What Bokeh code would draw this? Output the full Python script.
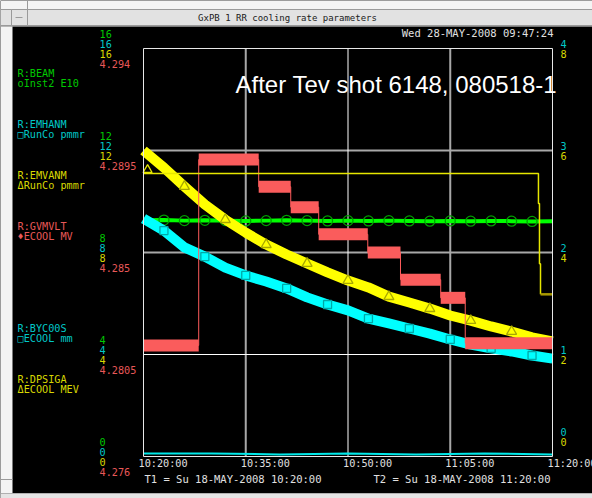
from bokeh.plotting import figure
from bokeh.models import Range1d, Label
from bokeh.embed import file_html
from bokeh.resources import INLINE

# ---------------- data ----------------
# time in minutes after 10:20:00 on 18-MAY-2008
time_ticks = [0, 15, 30, 45, 60]
time_tick_labels = ["10:20:00", "10:35:00", "10:50:00", "11:05:00", "11:20:00"]

sample_t = [0, 3, 6, 9, 12, 15, 18, 21, 24, 27, 30, 33, 36, 39, 42, 45, 48, 51, 54, 57, 60]
# R:BEAM  Inst2 E10 (left scale 0-16)
beam = [9.26, 9.27, 9.25, 9.26, 9.25, 9.24, 9.25, 9.26, 9.25, 9.24, 9.25,
        9.24, 9.25, 9.24, 9.23, 9.24, 9.23, 9.24, 9.23, 9.22, 9.23]
# R:EMHANM  RunCo pmmr (left scale 0-16)
emhanm = [9.33, 8.86, 8.20, 7.84, 7.41, 7.10, 6.86, 6.59, 6.24, 5.96, 5.73,
          5.41, 5.22, 5.02, 4.82, 4.59, 4.39, 4.24, 4.12, 3.96, 3.84]
# R:EMVANM  RunCo pmmr (left scale 0-16)
emvanm = [12.00, 11.33, 10.59, 9.88, 9.29, 8.78, 8.31, 7.92, 7.57, 7.22, 6.90,
          6.63, 6.27, 6.04, 5.80, 5.53, 5.33, 5.10, 4.90, 4.67, 4.51]
# R:GVMVLT  ECOOL MV (left scale 4.276-4.294), step levels
gv_start = [0.0, 8.1, 16.9, 21.6, 25.7, 32.9, 37.7, 43.6, 47.2]
gv_end = [8.1, 16.9, 21.6, 25.7, 32.9, 37.7, 43.6, 47.2, 60.0]
gv_level = [4.2809, 4.2891, 4.2879, 4.2870, 4.2858, 4.2850, 4.2838, 4.2830, 4.2810]
# R:BYC00S  ECOOL mm (right scale 0-4)
byc_t = [0, 10, 20, 30, 40, 50, 60]
byc = [0.03, 0.03, 0.02, 0.03, 0.02, 0.03, 0.02]
# R:DPSIGA  ECOOL MEV (right scale 0-8)
dp_t = [0.0, 57.94, 58.09, 58.24, 60.0]
dp = [5.55, 4.96, 3.78, 3.18, 3.18]
dp_marker_t = [0.6]
dp_marker = [5.62]

left_ticks = [0, 4, 8, 12, 16]
left_tick_labels = ["0", "4", "8", "12", "16"]
gv_ticks = [4.276, 4.2805, 4.285, 4.2895, 4.294]
gv_tick_labels = ["4.276", "4.2805", "4.285", "4.2895", "4.294"]
byc_ticks = [0, 1, 2, 3, 4]
byc_tick_labels = ["0", "1", "2", "3", "4"]
dp_ticks = [0, 2, 4, 6, 8]
dp_tick_labels = ["0", "2", "4", "6", "8"]

# ---------------- layout (page pixels) ----------------
W, H = 592, 498
PL, PT, PR, PB = 143, 48, 552, 456  # plot box in page pixels


def x_extent(lo, hi):
    k = (hi - lo) / (PR - PL)
    return Range1d(lo - PL * k, lo + (W - PL) * k)


def y_extent(lo, hi):
    k = (hi - lo) / (PB - PT)
    return Range1d(lo - (H - PB) * k, lo + PB * k)


p = figure(width=W, height=H, output_backend="svg", toolbar_location=None,
           x_axis_location=None, y_axis_location=None,
           x_range=x_extent(time_ticks[0], time_ticks[-1]),
           y_range=y_extent(left_ticks[0], left_ticks[-1]),
           min_border=0)
p.extra_x_ranges = {"px": Range1d(0, W)}
p.extra_y_ranges = {"gv": y_extent(gv_ticks[0], gv_ticks[-1]),
                    "byc": y_extent(byc_ticks[0], byc_ticks[-1]),
                    "dp": y_extent(dp_ticks[0], dp_ticks[-1]),
                    "py": Range1d(H, 0)}
p.background_fill_color = "black"
p.border_fill_color = "black"
p.outline_line_color = None
p.grid.visible = False

# ---------------- window chrome ----------------
p.quad(left=[0, 0, 11, 0, 0], right=[W, W, 27, 12, 0 + W],
       top=[0, 9, 9, 26, 493], bottom=[26, 25, 25, 493, H],
       x_range_name="px", y_range_name="py",
       fill_color=["#f4f4f4", "#e2e2e2", "#e2e2e2", "#f4f4f4", "#e4e4e4"],
       line_color=[None, "#9a9a9a", "#9a9a9a", None, "#b0b0b0"], line_width=1)
p.segment(x0=[27, 15, 0], y0=[0, 17, 479], x1=[27, 22, 12], y1=[9, 17, 479],
          x_range_name="px", y_range_name="py", line_color="#9a9a9a", line_width=1)

# ---------------- grid ----------------
lo_t, hi_t = time_ticks[0], time_ticks[-1]
lo_y, hi_y = left_ticks[0], left_ticks[-1]
p.segment(x0=[time_ticks[1], time_ticks[3]], x1=[time_ticks[1], time_ticks[3]],
          y0=[lo_y, lo_y], y1=[hi_y, hi_y], line_color="#a8a8a8", line_width=2)
p.segment(x0=[lo_t, lo_t], x1=[hi_t, hi_t], y0=[left_ticks[2], left_ticks[3]],
          y1=[left_ticks[2], left_ticks[3]], line_color="#a8a8a8", line_width=2)
p.segment(x0=[time_ticks[2]], x1=[time_ticks[2]], y0=[lo_y], y1=[hi_y],
          line_color="#ffffff", line_width=1)
p.segment(x0=[lo_t], x1=[hi_t], y0=[left_ticks[1]], y1=[left_ticks[1]],
          line_color="#ffffff", line_width=1)

# ---------------- traces ----------------
p.line(sample_t, beam, line_color="#00ff00", line_width=4)
p.scatter(sample_t[1:-1], beam[1:-1], marker="circle", size=10, fill_color=None,
          line_color="#00a000", line_width=1.3)

p.line(sample_t, emhanm, line_color="#00ffff", line_width=10, line_join="round")
p.scatter(sample_t[1:-1:2], emhanm[1:-1:2], marker="square", size=8, fill_color=None,
          line_color="#00a8a8", line_width=1.3)

p.line(sample_t, emvanm, line_color="#ffff00", line_width=10, line_join="round")
p.scatter(sample_t[2:-1:2], emvanm[2:-1:2], marker="triangle", size=10, fill_color=None,
          line_color="#a8a800", line_width=1.3)

p.step(gv_start + [gv_end[-1]], gv_level + [gv_level[-1]], mode="after",
       y_range_name="gv", line_color="#ff5c5c", line_width=1)
p.segment(x0=gv_start, x1=gv_end, y0=gv_level, y1=gv_level, y_range_name="gv",
          line_color="#fa5c5c", line_width=12)

p.line(byc_t, byc, y_range_name="byc", line_color="#00e8e8", line_width=2)

p.step(dp_t[:4], dp[:4], mode="after", y_range_name="dp", line_color="#e6e600", line_width=1.5)
p.line(dp_t[3:], dp[3:], y_range_name="dp", line_color="#a89800", line_width=2.5)
p.scatter(dp_marker_t, dp_marker, marker="triangle", size=9, fill_color=None,
          y_range_name="dp", line_color="#e6e600", line_width=1.3)

# plot frame
p.quad(left=[lo_t], right=[hi_t], bottom=[lo_y], top=[hi_y], fill_color=None,
       line_color="#e8e8e8", line_width=1)

# ---------------- texts ----------------
MONO = "DejaVu Sans Mono"
FS = "10.2px"


def lab(px, py, text, color, align="left", size=FS, font=MONO):
    p.add_layout(Label(x=px, y=py, x_range_name="px", y_range_name="py", text=text,
                       text_color=color, text_align=align, text_baseline="middle",
                       text_font=font, text_font_size=size))


lab(287, 17, "GxPB 1 RR cooling rate parameters", "#202020", align="center", size="9px")
lab(553, 32, "Wed 28-MAY-2008 09:47:24", "#e0e0e0", align="right", size="10.5px")

GREEN_T, CYAN_T, YELLOW_T, RED_T = "#00c800", "#00c8c8", "#d8d800", "#e85858"

legend = [
    ("R:BEAM", "oInst2  E10", GREEN_T, 73),
    ("R:EMHANM", "\u25a1RunCo  pmmr", CYAN_T, 124),
    ("R:EMVANM", "\u0394RunCo  pmmr", YELLOW_T, 175),
    ("R:GVMVLT", "\u2666ECOOL  MV", RED_T, 226),
    ("R:BYC00S", "\u25a1ECOOL  mm", CYAN_T, 328),
    ("R:DPSIGA", "\u0394ECOOL  MEV", YELLOW_T, 379),
]
for name, desc, col, py in legend:
    lab(17, py, name, col)
    lab(17, py + 10, desc, col)

# left tick labels (four stacked scales)
for t, txt, g, gtxt in zip(left_ticks, left_tick_labels, gv_ticks, gv_tick_labels):
    for off, col in ((15, GREEN_T), (5, CYAN_T), (-5, YELLOW_T)):
        p.add_layout(Label(x=99, x_range_name="px", y=t, y_offset=off, text=txt,
                           text_color=col, text_baseline="middle", text_font=MONO,
                           text_font_size=FS))
    p.add_layout(Label(x=99, x_range_name="px", y=g, y_range_name="gv", y_offset=-15,
                       text=gtxt, text_color=RED_T, text_baseline="middle",
                       text_font=MONO, text_font_size=FS))

# right tick labels
for i, (b, btxt, d, dtxt) in enumerate(zip(byc_ticks, byc_tick_labels, dp_ticks, dp_tick_labels)):
    lift = 20 if i == 0 else 0
    p.add_layout(Label(x=560, x_range_name="px", y=b, y_range_name="byc", y_offset=5 + lift,
                       text=btxt, text_color=CYAN_T, text_baseline="middle",
                       text_font=MONO, text_font_size=FS))
    p.add_layout(Label(x=560, x_range_name="px", y=d, y_range_name="dp", y_offset=-5 + lift,
                       text=dtxt, text_color=YELLOW_T, text_baseline="middle",
                       text_font=MONO, text_font_size=FS))

# time tick labels
for t, txt in zip(time_ticks, time_tick_labels):
    p.add_layout(Label(x=t, x_offset=-5, y=463, y_range_name="py", text=txt,
                       text_color="#e0e0e0", text_baseline="middle",
                       text_font=MONO, text_font_size=FS))

lab(144, 478, "T1 = Su 18-MAY-2008 10:20:00", "#e0e0e0", size="10.5px")
lab(373, 478, "T2 = Su 18-MAY-2008 11:20:00", "#e0e0e0", size="10.5px")

lab(235, 83.5, "After Tev shot 6148, 080518-1", "#ffffff", size="24px", font="Liberation Sans")

open("out.html", "w").write(file_html(p, INLINE))
